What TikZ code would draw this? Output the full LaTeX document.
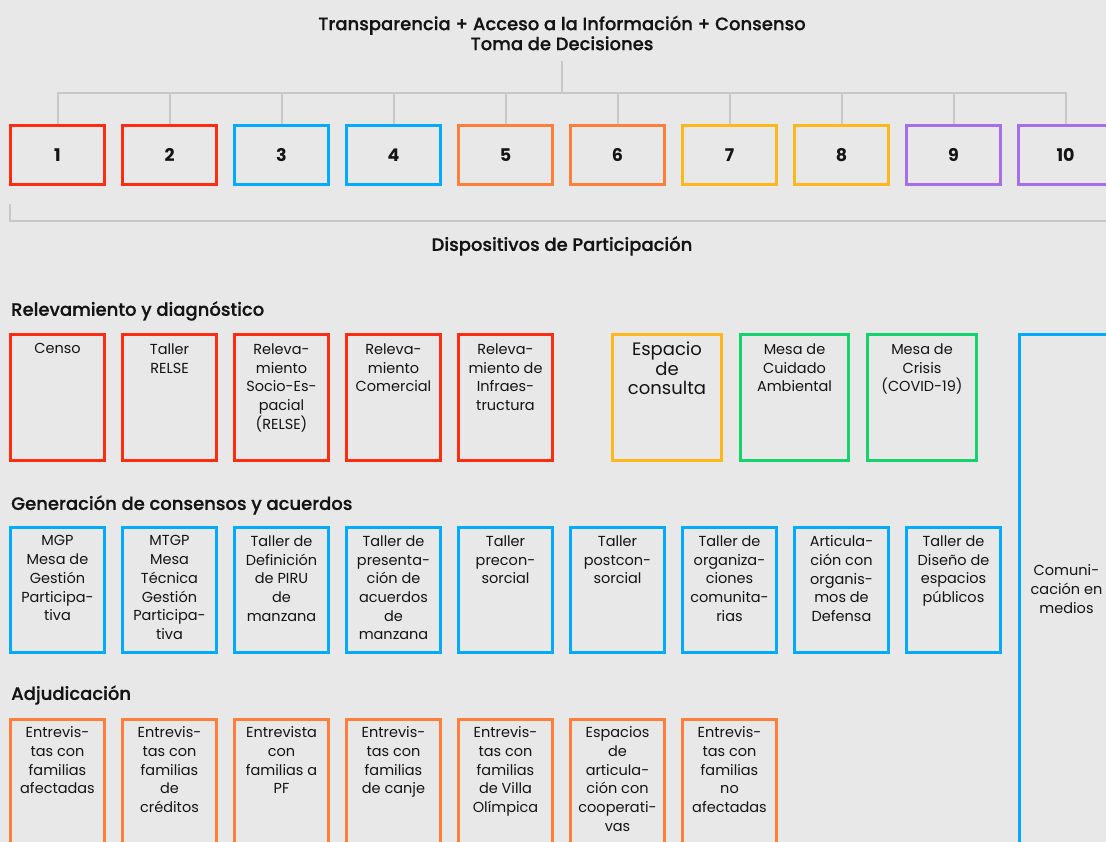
\documentclass[tikz,border=0pt]{standalone}
\usepackage{fontspec}
\setmainfont{Poppins}
\newfontfamily\medfont{Poppins Medium}[FakeBold=0.6]
\usetikzlibrary{positioning}
\definecolor{bgc}{RGB}{231,232,231}
\definecolor{linec}{RGB}{200,200,200}
\definecolor{redc}{RGB}{255,45,15}
\definecolor{bluec}{RGB}{0,170,255}
\definecolor{orangec}{RGB}{255,127,58}
\definecolor{yellowc}{RGB}{255,184,28}
\definecolor{purplec}{RGB}{166,110,232}
\definecolor{greenc}{RGB}{20,210,110}
\definecolor{ink}{RGB}{20,20,20}
\tikzset{
  numbox/.style={draw=#1,line width=3pt,minimum width=94pt,minimum height=59pt,inner sep=0pt,
    font=\fontsize{17.5}{18}\selectfont\bfseries,text=ink},
  devbox/.style={draw=#1,line width=3pt,minimum width=94pt,minimum height=126pt,inner sep=0pt},
  devtxt/.style={align=center,inner sep=0pt,font=\fontsize{14.5}{18.7}\selectfont,text=ink},
  head/.style={anchor=west,inner sep=0pt,font=\medfont\fontsize{18}{20}\selectfont,text=ink},
  link/.style={draw=linec,line width=2pt},
}

\begin{document}
\begin{tikzpicture}[x=1pt,y=-1pt]
\useasboundingbox (0,0) rectangle (1106,842);
\fill[bgc] (0,0) rectangle (1106,842);
% top: principles and the ten numbered boxes
\node[align=center,inner sep=0pt,font=\medfont\fontsize{18}{20}\selectfont,text=ink]
  (title) at (562,33) {Transparencia + Acceso a la Información + Consenso\\Toma de Decisiones};
\coordinate (hub) at (562,93);
\draw[link] (562,61) -- (hub);
\foreach \i/\c in {1/redc,2/redc,3/bluec,4/bluec,5/orangec,6/orangec,7/yellowc,8/yellowc,9/purplec,10/purplec}{
  \node[numbox=\c] (n\i) at ({57.5+112*(\i-1)},155) {\i};
  \draw[link] (n\i.north) |- (hub);
}
\coordinate (brL) at (10,204);
\coordinate (brR) at (1110,221);
\draw[link] (brL) |- (brR);
\node[inner sep=0pt,font=\medfont\fontsize{18}{20}\selectfont,text=ink] (disp) at (562,246)
  {Dispositivos de Participación};
% row 1: relevamiento
\node[head] (h1) at (11,311) {Relevamiento y diagnóstico};
\foreach \i/\t in {1/Censo,2/{Taller\\RELSE},3/{Releva-\\miento\\Socio-Es-\\pacial\\(RELSE)},
  4/{Releva-\\miento\\Comercial},5/{Releva-\\miento de\\Infraes-\\tructura}}{
  \node[devbox=redc] (ra\i) at ({57.5+112*(\i-1)},397.5) {};
  \node[devtxt,below=10.5pt of ra\i.north] (rat\i) {\t};
}
\node[devbox=yellowc,minimum width=109pt] (esp) at (667,397.5) {};
\node[devtxt,font=\fontsize{18}{19.5}\selectfont,below=9pt of esp.north] (espt) {Espacio\\de\\consulta};
\node[devbox=greenc,minimum width=108pt] (amb) at (794.5,397.5) {};
\node[devtxt,below=10.5pt of amb.north] (ambt) {Mesa de\\Cuidado\\Ambiental};
\node[devbox=greenc,minimum width=109pt] (cri) at (922,397.5) {};
\node[devtxt,below=10.5pt of cri.north] (crit) {Mesa de\\Crisis\\(COVID-19)};
% right column spanning all rows
\node[devbox=bluec,minimum height=512pt] (com) at (1066.5,590.5) {};
\node[devtxt,yshift=1.5pt] (comt) at (com.center) {Comuni-\\cación en\\medios};
% row 2: consensos
\node[head] (h2) at (11,505) {Generación de consensos y acuerdos};
\foreach \i/\t in {1/{MGP\\Mesa de\\Gestión\\Participa-\\tiva},2/{MTGP\\Mesa\\Técnica\\Gestión\\Participa-\\tiva},
  3/{Taller de\\Definición\\de PIRU\\de\\manzana},4/{Taller de\\presenta-\\ción de\\acuerdos\\de\\manzana},
  5/{Taller\\precon-\\sorcial},6/{Taller\\postcon-\\sorcial},7/{Taller de\\organiza-\\ciones\\comunita-\\rias},
  8/{Articula-\\ción con\\organis-\\mos de\\Defensa},9/{Taller de\\Diseño de\\espacios\\públicos}}{
  \node[devbox=bluec,minimum height=125pt] (rb\i) at ({57.5+112*(\i-1)},590) {};
  \node[devtxt,below=9.5pt of rb\i.north] (rbt\i) {\t};
}
% row 3: adjudicacion
\node[head] (h3) at (11,695) {Adjudicación};
\foreach \i/\t in {1/{Entrevis-\\tas con\\familias\\afectadas},2/{Entrevis-\\tas con\\familias\\de\\créditos},
  3/{Entrevista\\con\\familias a\\PF},4/{Entrevis-\\tas con\\familias\\de canje},
  5/{Entrevis-\\tas con\\familias\\de Villa\\Olímpica},6/{Espacios\\de\\articula-\\ción con\\cooperati-\\vas},
  7/{Entrevis-\\tas con\\familias\\no\\afectadas}}{
  \node[devbox=orangec,minimum height=127pt] (rc\i) at ({57.5+112*(\i-1)},783) {};
  \node[devtxt,below=8.5pt of rc\i.north] (rct\i) {\t};
}
\end{tikzpicture}
\end{document}
